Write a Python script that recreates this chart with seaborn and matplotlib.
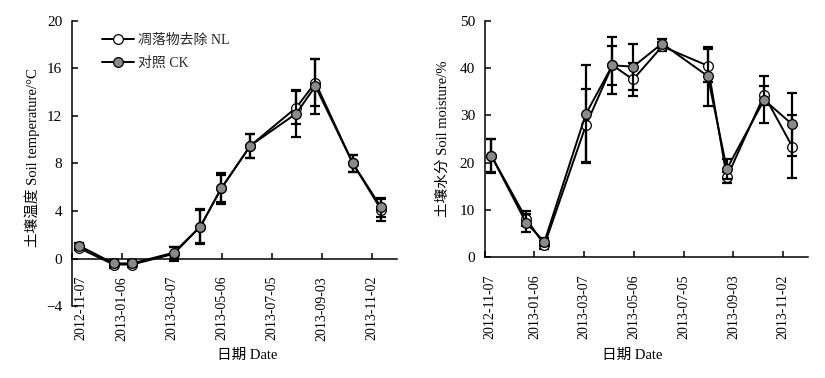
import matplotlib
matplotlib.use("Agg")
import matplotlib.dates as mdates
import matplotlib.pyplot as plt
import matplotlib.transforms as mtransforms
import pandas as pd
import seaborn as sns

# ── Datos ─────────────────────────────────────────────────────────────────
SAMPLE_DATES = ["2012-11-15", "2012-12-27", "2013-01-18", "2013-03-09", "2013-04-10",
                "2013-05-05", "2013-06-09", "2013-08-03", "2013-08-26", "2013-10-10",
                "2013-11-13"]
TICK_DATES = ["2012-11-07", "2013-01-06", "2013-03-07", "2013-05-06",
              "2013-07-05", "2013-09-03", "2013-11-02"]
X_START = "2012-11-07"
X_END = "2013-12-02"

TEMP_NL = [0.9, -0.5, -0.5, 0.4, 2.7, 5.9, 9.5, 12.7, 14.8, 8.0, 4.1]
TEMP_NL_SE = [0.2, 0.3, 0.2, 0.6, 1.5, 1.3, 1.0, 1.4, 2.0, 0.7, 0.9]
TEMP_CK = [1.1, -0.4, -0.4, 0.5, 2.7, 5.9, 9.5, 12.2, 14.5, 8.0, 4.3]
TEMP_CK_SE = [0.2, 0.3, 0.3, 0.5, 1.4, 1.1, 1.0, 2.0, 2.3, 0.7, 0.8]

MOIST_NL = [21.5, 8.2, 2.6, 27.9, 40.6, 37.6, 44.6, 40.5, 16.9, 34.3, 23.4]
MOIST_NL_SE = [3.5, 1.6, 0.8, 7.7, 4.1, 3.5, 1.0, 3.5, 1.1, 2.0, 6.7]
MOIST_CK = [21.5, 7.3, 3.3, 30.3, 40.6, 40.3, 45.2, 38.3, 18.7, 33.3, 28.1]
MOIST_CK_SE = [3.6, 1.9, 0.8, 10.4, 6.0, 4.9, 1.0, 6.2, 2.2, 5.0, 6.6]

LABEL_NL = "凋落物去除 NL"
LABEL_CK = "对照 CK"
GRAY = "#8a8a8a"

sns.set_theme(style="ticks")
plt.rcParams["font.family"] = ["Liberation Serif", "Noto Sans CJK SC"]
plt.rcParams["axes.unicode_minus"] = True

dates = pd.to_datetime(SAMPLE_DATES)


def draw_series(ax, values, errors, face, label, z):
    ax.errorbar(dates, values, yerr=errors, fmt="none", ecolor="black",
                elinewidth=1.6, capsize=3.6, capthick=1.6, zorder=z)
    sns.lineplot(x=dates, y=values, ax=ax, color="black", linewidth=1.4,
                 marker="o", markersize=7, markerfacecolor=face,
                 markeredgecolor="black", markeredgewidth=0.9,
                 label=label, zorder=z + 1, legend=False)


def style_panel(ax, ylim, yticks, ylabel):
    ax.set_xlim(pd.Timestamp(X_START), pd.Timestamp(X_END))
    ax.set_xticks(pd.to_datetime(TICK_DATES))
    ax.xaxis.set_major_formatter(mdates.DateFormatter("%Y-%m-%d"))
    ax.set_ylim(*ylim)
    ax.set_yticks(yticks)
    ax.spines["top"].set_visible(False)
    ax.spines["right"].set_visible(False)
    for side in ("left", "bottom"):
        ax.spines[side].set_linewidth(1.1)
        ax.spines[side].set_color("black")
    ax.tick_params(axis="x", direction="in", length=4, width=1.1, pad=12.5,
                   labelsize=10, labelrotation=90, colors="black")
    ax.tick_params(axis="y", direction="in", length=4, width=1.1, pad=7,
                   labelsize=11, colors="black")
    ax.set_ylabel(ylabel, fontsize=10.5, color="black")
    ax.set_xlabel("日期 Date", fontsize=10.5, color="black")


def shift_first_label(fig, ax, shift_pt):
    first = ax.xaxis.get_major_ticks()[0].label1
    first.set_transform(first.get_transform()
                        + mtransforms.ScaledTranslation(shift_pt / 72, 0,
                                                        fig.dpi_scale_trans))


fig = plt.figure(figsize=(8.25, 3.78), dpi=100)
ax1 = fig.add_axes([0.0873, 0.190, 0.394, 0.755])
ax2 = fig.add_axes([0.5875, 0.319, 0.392, 0.626])

# Panel izquierdo: temperatura
draw_series(ax1, TEMP_NL, TEMP_NL_SE, "white", LABEL_NL, 2)
draw_series(ax1, TEMP_CK, TEMP_CK_SE, GRAY, LABEL_CK, 4)
ax1.spines["bottom"].set_position(("data", 0))
style_panel(ax1, (-4, 20), [-4, 0, 4, 8, 12, 16, 20], "土壤温度 Soil temperature/°C")
ax1.xaxis.set_label_coords(0.54, -0.15)
ax1.yaxis.set_label_coords(-0.10, 0.52)
ax1.legend(loc="upper left", bbox_to_anchor=(0.074, 0.975), frameon=False,
           handlelength=2.3, handletextpad=0.3, labelspacing=0.75,
           borderaxespad=0, fontsize=10)

# Panel derecho: humedad
draw_series(ax2, MOIST_NL, MOIST_NL_SE, "white", LABEL_NL, 2)
draw_series(ax2, MOIST_CK, MOIST_CK_SE, GRAY, LABEL_CK, 4)
style_panel(ax2, (0, 50), [0, 10, 20, 30, 40, 50], "土壤水分 Soil moisture/%")
ax2.xaxis.set_label_coords(0.456, -0.385)
ax2.yaxis.set_label_coords(-0.107, 0.50)

fig.canvas.draw()
shift_first_label(fig, ax1, 6.5)
shift_first_label(fig, ax2, 3.6)

fig.savefig("out.png", dpi=100)
